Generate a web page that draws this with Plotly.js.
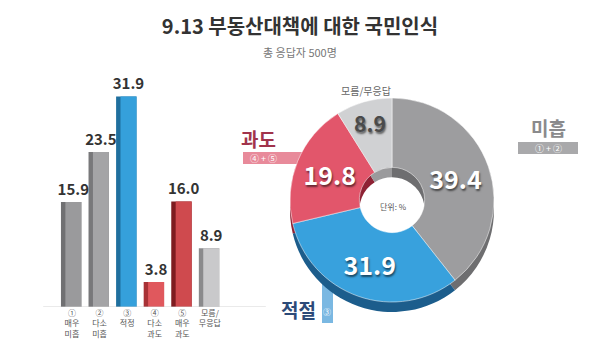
<!DOCTYPE html>
<html><head><meta charset="utf-8">
<script src="https://cdn.plot.ly/plotly-3.0.1.min.js"></script>
<style>html,body{margin:0;padding:0;background:#fff}#c{width:600px;height:360px}</style>
</head><body><div id="c"></div>
<script>
const barCategories = ['①<br>매우<br>미흡', '②<br>다소<br>미흡', '③<br>적정', '④<br>다소<br>과도', '⑤<br>매우<br>과도', '모름/<br>무응답'];
const barValues = [15.9, 23.5, 31.9, 3.8, 16.0, 8.9];
const barFace = ['#9a9a9c', '#a4a4a6', '#35a0db', '#e0585d', '#cf4a4e', '#c9c9cb'];
const barSide = ['#707072', '#78787a', '#1f6f9e', '#a83236', '#7e1c20', '#8a8a8c'];

const pieLabels = ['미흡', '적절', '과도', '모름/무응답'];
const pieValues = [39.4, 31.9, 19.8, 8.9];
const pieFace = ['#9d9d9f', '#38a1dd', '#e2566b', '#d0d1d3'];
const pieSide = ['#6e6e70', '#1c5d8c', '#8e2234', '#9a9a9c'];
const pieTextColor = ['#ffffff', '#ffffff', '#ffffff', '#4a4a4a'];

const F = '"Noto Sans CJK KR", "Noto Sans", sans-serif';

const traces = [
  {type:'bar', x: barCategories, y: barValues, width:0.74, offset:-0.4,
   marker:{color: barSide}, hoverinfo:'skip', xaxis:'x', yaxis:'y', showlegend:false},
  {type:'bar', x: barCategories, y: barValues, width:0.58, offset:-0.24,
   marker:{color: barFace}, text: barValues.map(v=>v.toFixed(1)), textposition:'outside',
   cliponaxis:false, constraintext:'none',
   textfont:{family:F, size:15, color:'#333', weight:'bold'}, xaxis:'x', yaxis:'y', showlegend:false},
  {type:'pie', labels: pieLabels, values: pieValues, sort:false, direction:'clockwise',
   hole:0.32, domain:{x:[290/600,494/600], y:[0.1333,0.7]},
   marker:{colors: pieSide, line:{color:'rgba(0,0,0,0)', width:0}},
   textinfo:'none', hoverinfo:'skip', showlegend:false},
  {type:'pie', labels: pieLabels, values: pieValues, sort:false, direction:'clockwise',
   hole:0.32, domain:{x:[290/600,494/600], y:[0.1611,0.7278]},
   marker:{colors: pieFace, line:{color:'#ffffff', width:0.5}},
   texttemplate:'%{value:.1f}', textposition:'inside', insidetextorientation:'horizontal',
   textfont:{family:F, size:25, weight:'bold', color: pieTextColor, shadow:'1px 2px 2px rgba(0,0,0,0.55)'},
   hoverinfo:'skip', showlegend:false}
];

const ann = (text, x, y, size, color, bold) => ({text, xref:'paper', yref:'paper', x:x/600, y:1-y/360,
  xanchor:'center', yanchor:'middle', showarrow:false,
  font:{family:F, size, color, weight: bold ? 'bold' : 'normal'}});

const layout = {
  width:600, height:360, margin:{l:0,r:0,t:0,b:0},
  paper_bgcolor:'#ffffff', plot_bgcolor:'rgba(0,0,0,0)',
  barmode:'overlay',
  title:{text:'9.13 부동산대책에 대한 국민인식', x:0.5, xanchor:'center', y:0.925, yanchor:'middle',
         font:{family:F, size:20, color:'#333', weight:'bold'}},
  xaxis:{domain:[0.074,0.4417], range:[-1,7], showgrid:false, zeroline:false,
         showline:false, ticks:'', tickfont:{family:F, size:8, color:'#555'}, fixedrange:true},
  yaxis:{domain:[0.147,0.789], range:[0,35], visible:false, fixedrange:true},
  shapes:[
    {type:'line', xref:'paper', yref:'y', x0:0.072, x1:0.443, y0:0, y1:0, line:{color:'#cccccc', width:1}},
    {type:'rect', xref:'paper', yref:'paper', layer:'below', x0:243/600, x1:320/600, y0:1-164/360, y1:1-152/360,
     fillcolor:'#e88a9a', line:{width:0}},
    {type:'rect', xref:'paper', yref:'paper', layer:'below', x0:518/600, x1:578/600, y0:1-154/360, y1:1-142/360,
     fillcolor:'#a9a9ab', line:{width:0}},
    {type:'rect', xref:'paper', yref:'paper', layer:'below', x0:322/600, x1:333/600, y0:1-323/360, y1:1-282/360,
     fillcolor:'#7ab8e2', line:{width:0}}
  ],
  annotations:[
    ann('총 응답자 500명', 300, 52, 11, '#777'),
    ann('미흡', 548, 127, 19, '#8a8a8c', true),
    ann('① + ②', 548, 148, 9, '#ffffff'),
    ann('과도', 258, 138, 19, '#a1334b', true),
    ann('④ + ⑤', 263, 158, 9, '#ffffff'),
    ann('적절', 298, 309, 19, '#2c4a78', true),
    ann('③', 327.5, 311, 8, '#ffffff'),
    ann('모름/무응답', 366, 90, 10, '#666'),
    ann('단위: %', 393, 206, 8, '#555')
  ]
};

Plotly.newPlot('c', traces, layout, {displayModeBar:false, staticPlot:true});
</script></body></html>
